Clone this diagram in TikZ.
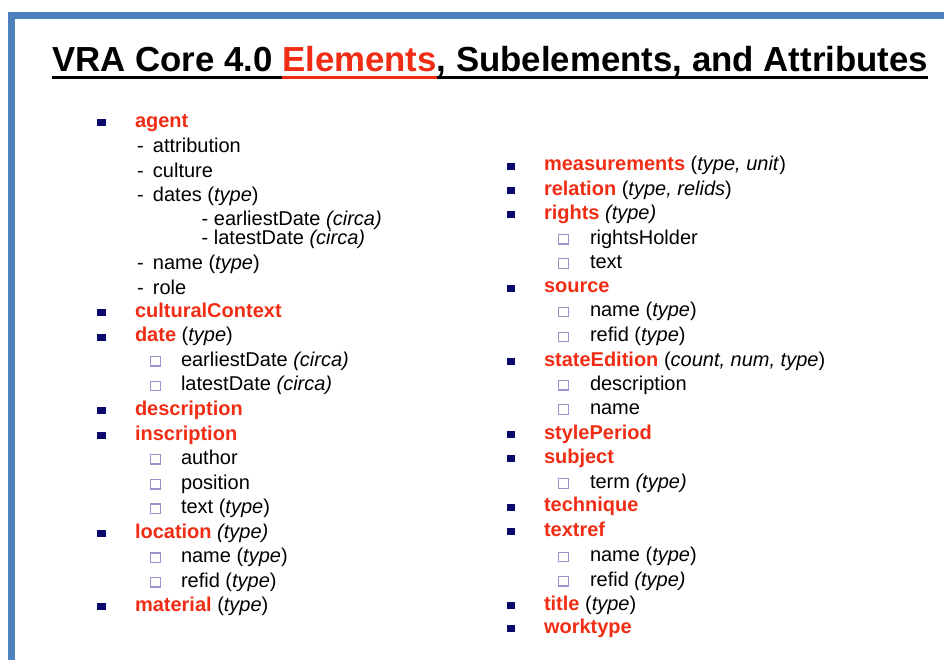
\documentclass[tikz,border=0pt]{standalone}
\usepackage{fontspec}
\setmainfont{Liberation Sans}
\definecolor{vrared}{RGB}{240,45,20}
\definecolor{vranavy}{RGB}{10,10,110}
\definecolor{boxline}{RGB}{150,150,205}
\definecolor{frameblue}{RGB}{79,129,189}
\newcommand\elname[1]{\textcolor{vrared}{\bfseries #1}}
\newcommand\mainrow[5]{%
  \node[navybox] (#1b) at (#2,#4-4.5) {};
  \node[txt] (#1) at (#3,#4) {#5};}
\newcommand\hollowrow[5]{%
  \node[hollowbox] (#1b) at (#2,#4-4.8) {};
  \node[txt] (#1) at (#3,#4) {#5};}
\newcommand\plainrow[4]{%
  \node[txt] (#1) at (#2,#3) {#4};}
\begin{document}
\begin{tikzpicture}[x=1pt,y=-1pt,
  every node/.style={inner sep=0pt,outer sep=0pt},
  txt/.style={anchor=base west,font=\fontsize{20}{24}\selectfont,text=black},
  navybox/.style={fill=vranavy,minimum width=8.5pt,minimum height=7pt},
  hollowbox/.style={draw=boxline,line width=1.1pt,minimum size=9.5pt,fill=white},
  ttl/.style={anchor=base west,font=\fontsize{34.8}{40}\selectfont\bfseries}]
\useasboundingbox (0,0) rectangle (944,659);
% slide frame
\draw[frameblue,line width=7pt] (11.5,665) -- (11.5,15.5) -- (950,15.5);
% title
\node[ttl] (ta) at (52,71.7) {VRA Core 4.0};
\node[ttl,text=vrared] (tb) at ([xshift=9.7pt]ta.base east) {Elements};
\node[ttl] (tc) at (tb.base east) {, Subelements, and Attributes};
\draw[line width=3pt] ([yshift=-6pt]ta.base west) -- ([yshift=-6pt]tb.base west);
\draw[vrared,line width=3pt] ([yshift=-6pt]tb.base west) -- ([yshift=-6pt]tb.base east);
\draw[line width=3pt] ([yshift=-6pt]tb.base east) -- ([yshift=-6pt]tc.base east);
% left column
\mainrow{agent}{101.5}{135}{127}{\elname{agent}}
\plainrow{attr}{137}{152}{-\hspace{9.3pt}attribution}
\plainrow{cult}{137}{177}{-\hspace{9.3pt}culture}
\plainrow{dates}{137}{201.5}{-\hspace{9.3pt}dates (\textit{type})}
\plainrow{aed}{201.7}{225.5}{- earliestDate \textit{(circa)}}
\plainrow{ald}{201.7}{244.5}{- latestDate \textit{(circa)}}
\plainrow{aname}{137}{269.5}{-\hspace{9.3pt}name (\textit{type})}
\plainrow{arole}{137}{294}{-\hspace{9.3pt}role}
\mainrow{cc}{101.5}{135}{317}{\elname{culturalContext}}
\mainrow{date}{101.5}{135}{341.7}{\elname{date} (\textit{type})}
\hollowrow{ded}{155.5}{181}{366}{earliestDate \textit{(circa)}}
\hollowrow{dld}{155.5}{181}{390.7}{latestDate \textit{(circa)}}
\mainrow{desc}{101.5}{135}{415}{\elname{description}}
\mainrow{insc}{101.5}{135}{440}{\elname{inscription}}
\hollowrow{iau}{155.5}{181}{464}{author}
\hollowrow{ipo}{155.5}{181}{489}{position}
\hollowrow{ite}{155.5}{181}{513.5}{text (\textit{type})}
\mainrow{loc}{101.5}{135}{538}{\elname{location} \textit{(type)}}
\hollowrow{lna}{155.5}{181}{562.5}{name (\textit{type})}
\hollowrow{lre}{155.5}{181}{587}{refid (\textit{type})}
\mainrow{mat}{101.5}{135}{611}{\elname{material} (\textit{type})}
% right column
\mainrow{meas}{510.8}{544}{170.7}{\elname{measurements} (\textit{type, unit})}
\mainrow{rel}{510.8}{544}{195}{\elname{relation} (\textit{type, relids})}
\mainrow{rights}{510.8}{544}{219}{\elname{rights} \textit{(type)}}
\hollowrow{rho}{563.5}{590}{244}{rightsHolder}
\hollowrow{rte}{563.5}{590}{268.3}{text}
\mainrow{src}{510.8}{544}{292.7}{\elname{source}}
\hollowrow{sna}{563.5}{590}{316.7}{name (\textit{type})}
\hollowrow{sre}{563.5}{590}{341.7}{refid (\textit{type})}
\mainrow{se}{510.8}{544}{366}{\elname{stateEdition} (\textit{count, num, type})}
\hollowrow{sde}{563.5}{590}{390}{description}
\hollowrow{sen}{563.5}{590}{414.3}{name}
\mainrow{sp}{510.8}{544}{439.3}{\elname{stylePeriod}}
\mainrow{subj}{510.8}{544}{463.3}{\elname{subject}}
\hollowrow{ste}{563.5}{590}{488.3}{term \textit{(type)}}
\mainrow{tech}{510.8}{544}{511.7}{\elname{technique}}
\mainrow{tref}{510.8}{544}{536}{\elname{textref}}
\hollowrow{tna}{563.5}{590}{561.7}{name (\textit{type})}
\hollowrow{tre}{563.5}{590}{586}{refid \textit{(type)}}
\mainrow{title}{510.8}{544}{610}{\elname{title} (\textit{type})}
\mainrow{wt}{510.8}{544}{633.3}{\elname{worktype}}
\end{tikzpicture}
\end{document}
